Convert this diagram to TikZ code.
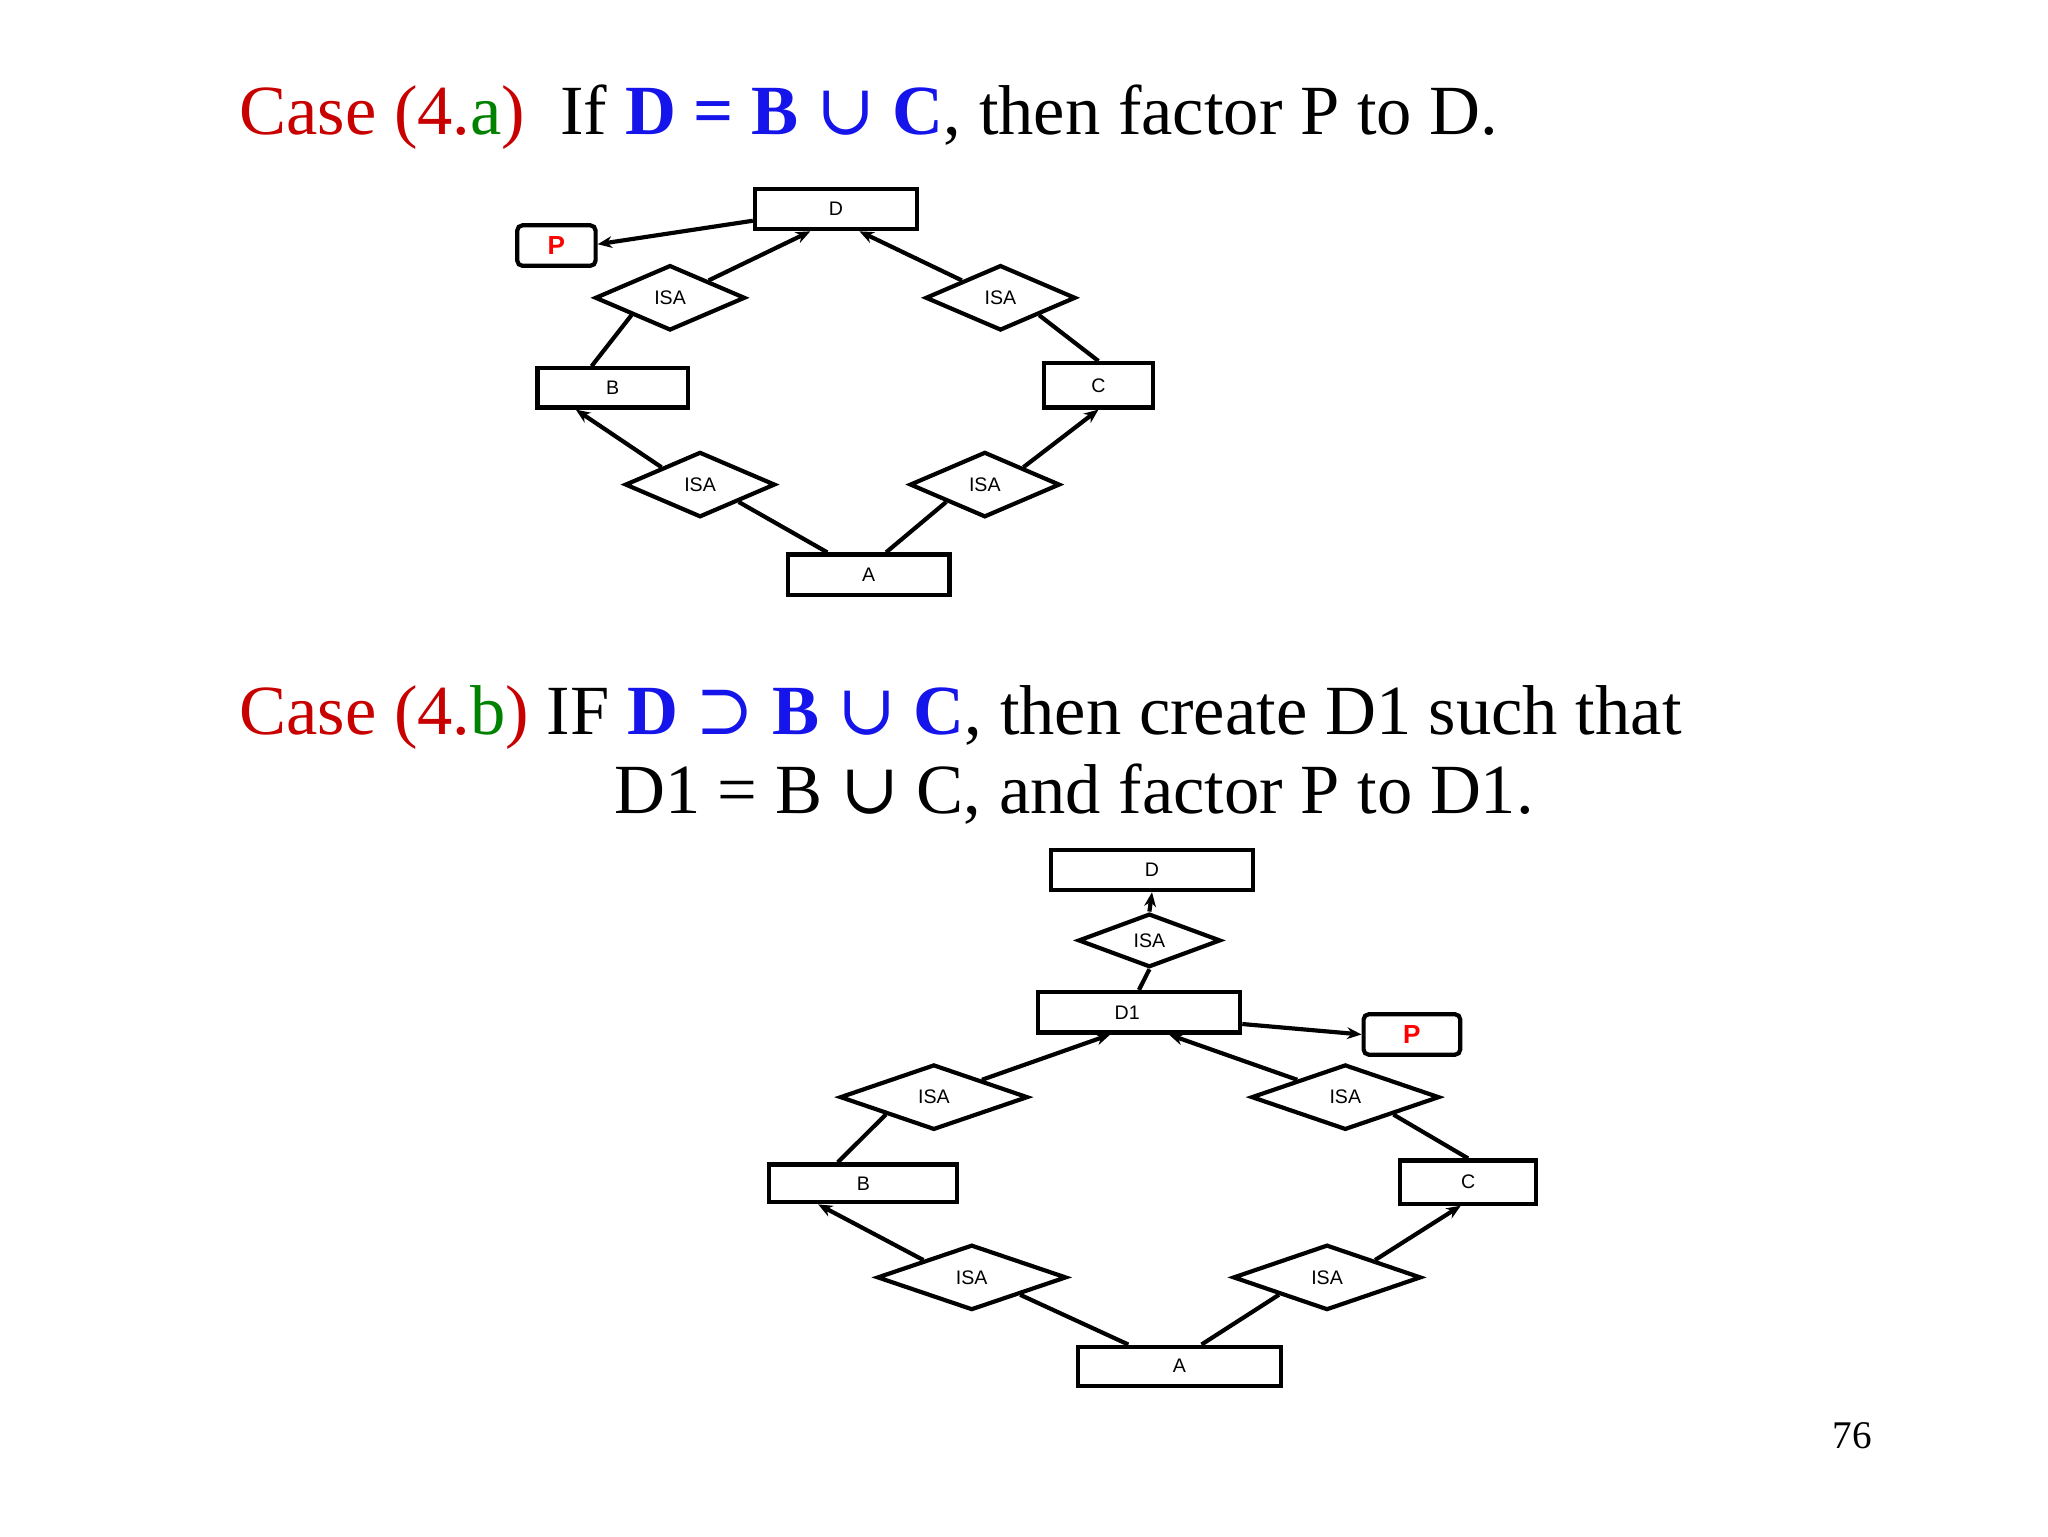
\documentclass[tikz,border=0pt]{standalone}
\usepackage{fontspec}
\setmainfont{Liberation Serif}
\newfontfamily\lsans{Liberation Sans}
\newfontfamily\symf{DejaVu Serif}
\usetikzlibrary{shapes.geometric,arrows.meta}
\definecolor{cred}{RGB}{200,0,0}
\definecolor{cgreen}{RGB}{0,130,0}
\definecolor{cblue}{RGB}{20,20,235}
\newcommand{\mycup}{{\symf\mdseries ∪}}
\newcommand{\mysup}{{\symf\mdseries ⊃}}
\begin{document}
\begin{tikzpicture}[x=1pt,y=-1pt,
  ent/.style={draw,line width=3.2pt,inner sep=0,font=\lsans\fontsize{15}{15}\selectfont},
  isa/.style={draw,diamond,line width=3.2pt,inner sep=0,font=\lsans\fontsize{15}{15}\selectfont},
  pbox/.style={draw,rounded corners=4pt,line width=3.2pt,inner sep=0,text=red,font=\lsans\bfseries\fontsize{20}{20}\selectfont},
  ln/.style={line width=3.2pt},
  ar/.style={line width=3.2pt,-{Stealth[length=11pt,width=9pt]}},
  ttl/.style={anchor=base west,inner sep=0,font=\fontsize{54}{54}\selectfont}]
\useasboundingbox (0,0) rectangle (1568,1176);
\fill[white] (0,0) rectangle (1568,1176);
% titles
\node[ttl] (t1) at (183,103) {\textcolor{cred}{Case (4.}\textcolor{cgreen}{a}\textcolor{cred}{)}\ \ If \textcolor{cblue}{\bfseries D = B \mycup{} C}, then factor P to D.};
\node[ttl] (t2) at (183,562) {\textcolor{cred}{Case (4.}\textcolor{cgreen}{b}\textcolor{cred}{)} IF \textcolor{cblue}{\bfseries D \mysup{} B \mycup{} C}, then create D1 such that};
\node[ttl] (t3) at (470,623) {D1 = B \mycup{} C, and factor P to D1.};
\node[anchor=base,inner sep=0,font=\fontsize{30}{30}\selectfont] (pg) at (1418,1109) {76};
% top diagram
\node[ent,minimum width=124pt,minimum height=31pt] (D) at (640,160) {D};
\node[pbox,minimum width=60pt,minimum height=31pt] (P) at (426,188) {P};
\node[isa,minimum width=115pt,minimum height=50pt] (i1) at (513,228) {ISA};
\node[isa,minimum width=115pt,minimum height=50pt] (i2) at (766,228) {ISA};
\node[ent,minimum width=115pt,minimum height=30pt] (B) at (469,297) {B};
\node[ent,minimum width=83pt,minimum height=34pt] (C) at (841,295) {C};
\node[isa,minimum width=115pt,minimum height=50pt] (i3) at (536,371) {ISA};
\node[isa,minimum width=115pt,minimum height=50pt] (i4) at (754,371) {ISA};
\node[ent,minimum width=124pt,minimum height=31pt] (A) at (665,440) {A};
\draw[ar] ([yshift=-9pt]D.west) -- ([yshift=1pt]P.east);
\draw[ar] (i1.north east) -- ([xshift=44pt]D.south west);
\draw[ar] (i2.north west) -- ([xshift=18pt]D.south);
\draw[ln] (i1.south west) -- ([xshift=43pt]B.north west);
\draw[ln] (i2.south east) -- (C.north);
\draw[ar] (i3.north west) -- ([xshift=31pt]B.south west);
\draw[ar] (i4.north east) -- (C.south);
\draw[ln] (i3.south east) -- ([xshift=32pt]A.north west);
\draw[ln] (i4.south west) -- ([xshift=77pt]A.north west);
% bottom diagram
\node[ent,minimum width=155pt,minimum height=31pt] (bD) at (882,666) {D};
\node[isa,minimum width=109pt,minimum height=41pt] (j0) at (880,720) {ISA};
\node[ent,minimum width=155pt,minimum height=31pt] (D1) at (872,775) {\hspace*{-18pt}D1};
\node[pbox,minimum width=74pt,minimum height=31pt] (bP) at (1081,792) {P};
\node[isa,minimum width=144pt,minimum height=50pt] (j1) at (715,840) {ISA};
\node[isa,minimum width=144pt,minimum height=50pt] (j2) at (1030,840) {ISA};
\node[ent,minimum width=144pt,minimum height=29pt] (bB) at (661,906) {B};
\node[ent,minimum width=104pt,minimum height=33pt] (bC) at (1124,905) {C};
\node[isa,minimum width=145pt,minimum height=50pt] (j3) at (744,978) {ISA};
\node[isa,minimum width=144pt,minimum height=50pt] (j4) at (1016,978) {ISA};
\node[ent,minimum width=155pt,minimum height=30pt] (bA) at (903,1046) {A};
\draw[ar] (j0.north) -- (bD.south);
\draw[ln] (j0.south) -- (D1.north);
\draw[ar] ([yshift=-9pt]D1.east) -- (bP.west);
\draw[ar] (j1.north east) -- ([xshift=-22pt]D1.south);
\draw[ar] (j2.north west) -- ([xshift=23pt]D1.south);
\draw[ln] (j1.south west) -- ([xshift=54pt]bB.north west);
\draw[ln] (j2.south east) -- (bC.north);
\draw[ar] (j3.north west) -- ([xshift=39pt]bB.south west);
\draw[ar] (j4.north east) -- ([xshift=48pt]bC.south west);
\draw[ln] (j3.south east) -- ([xshift=40pt]bA.north west);
\draw[ln] (j4.south west) -- ([xshift=96pt]bA.north west);
\end{tikzpicture}
\end{document}
